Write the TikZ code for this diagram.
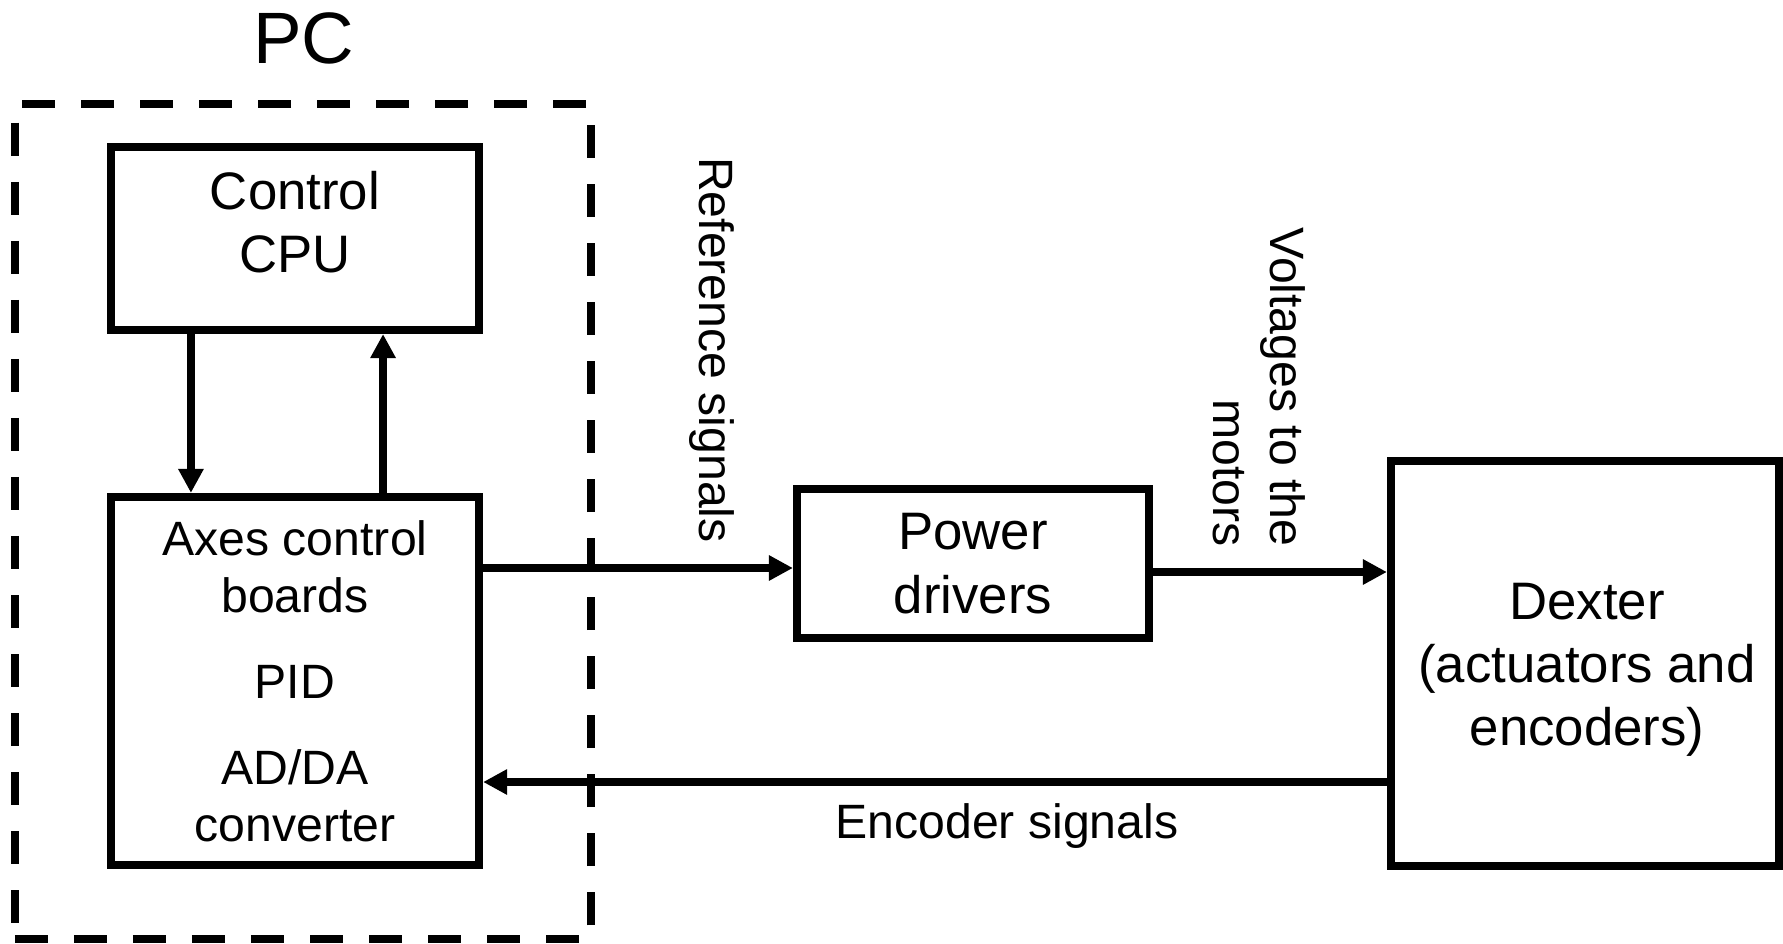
\documentclass[tikz,border=0pt]{standalone}
\usepackage{fontspec}
\setmainfont{Liberation Sans}
\usetikzlibrary{arrows.meta,positioning}

\tikzset{
  block/.style={draw, line width=0.08cm, inner sep=0pt, align=center},
  bigtext/.style={font=\fontsize{15}{18}\selectfont, align=center},
  smalltext/.style={font=\fontsize{13.7}{16.2}\selectfont},
  arr/.style={line width=0.08cm, -{Triangle[length=0.24cm, width=0.24cm]}}
}

\begin{document}
\begin{tikzpicture}[x=0.01cm, y=-0.01cm]
  \useasboundingbox (0,0) rectangle (1783,943);

  % PC frame
  \node[draw, line width=0.08cm, dash pattern=on 0.33cm off 0.26cm,
        minimum width=5.76cm, minimum height=8.35cm] (pcframe) at (303,521.5) {};
  \node[font=\fontsize{20.7}{24}\selectfont] (pclabel) at (304,38.5) {PC};

  % Blocks
  \node[block, minimum width=3.68cm, minimum height=1.83cm] (cpu) at (295,238.5) {};
  \node[bigtext] (cputext) at (295,222) {Control\\CPU};
  \node[block, smalltext, minimum width=3.68cm, minimum height=3.68cm] (axes) at (295,681)
    {Axes control\\boards\\[8.2pt]PID\\[8.2pt]AD/DA\\converter};
  \node[block, bigtext, minimum width=3.52cm, minimum height=1.49cm] (power) at (973,563.5)
    {Power\\drivers};
  \node[block, minimum width=3.88cm, minimum height=4.05cm] (dexter) at (1585,663.5) {};
  \node[bigtext] (dextertext) at (1587,670) {Dexter\\(actuators and\\encoders)};

  % Signal rows
  \coordinate (refrow) at (0,568);
  \coordinate (motrow) at (0,572);
  \coordinate (encrow) at (0,782);

  % Connectors
  \draw[arr] ([xshift=-1.04cm]cpu.south) -- ([xshift=-1.04cm]axes.north);
  \draw[arr] ([xshift=0.88cm]axes.north) -- ([xshift=0.88cm]cpu.south);
  \draw[arr] (axes.east |- refrow) -- (power.west |- refrow);
  \draw[arr] (power.east |- motrow) -- (dexter.west |- motrow);
  \draw[arr] (dexter.west |- encrow) -- (axes.east |- encrow);

  % Labels
  \node[smalltext, rotate=-90] (reflabel) at (712,350) {Reference signals};
  \node[smalltext, rotate=-90, align=right] (voltlabel) at (1259,387) {Voltages to the\\motors};
  \node[smalltext] (enclabel) at (1007,826) {Encoder signals};
\end{tikzpicture}
\end{document}
